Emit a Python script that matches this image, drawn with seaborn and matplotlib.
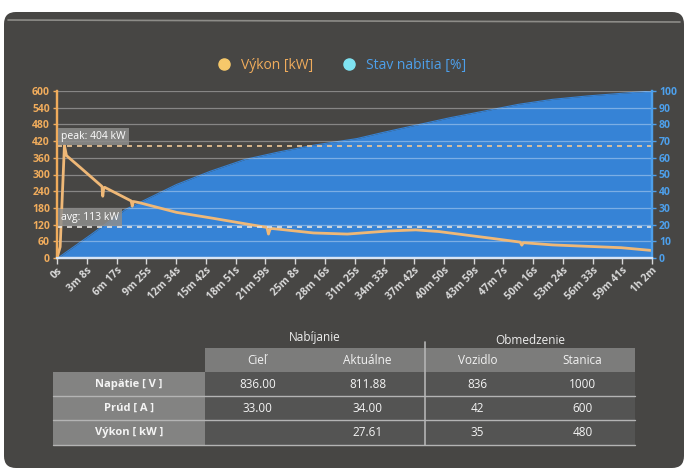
import numpy as np
import pandas as pd
import seaborn as sns
import matplotlib.pyplot as plt
from matplotlib.lines import Line2D
from matplotlib.patches import Rectangle, FancyBboxPatch

# power curve (seconds, kW)
power_t = [0, 20, 47, 60, 150, 285, 290, 296, 302, 470, 477, 484, 520, 757, 975,
           1192, 1330, 1340, 1350, 1362, 1430, 1625, 1840, 2100, 2273, 2420, 2598,
           2750, 2935, 2945, 2955, 3140, 3357, 3575, 3770]
power_kw = [0, 40, 404, 368, 324, 257, 222, 250, 254, 205, 186, 203, 199, 164, 144,
            123, 110, 86, 104, 106, 102, 90, 86, 97, 101, 95, 82,
            71, 57, 46, 55, 47, 42, 37, 27]

# state of charge (seconds, %)
soc_t = [0, 20, 215, 432, 757, 973, 1190, 1406, 1623, 1900, 2057, 2273, 2490,
         2707, 2923, 3140, 3357, 3575, 3770]
soc_pct = [0, 1, 14, 29, 44, 52, 59, 63.5, 67.5, 71.5, 75, 79.5, 84,
           88, 92, 95, 97, 98.6, 100]

PEAK_KW = 404
AVG_KW = 113

tick_labels = ["0s", "3m 8s", "6m 17s", "9m 25s", "12m 34s", "15m 42s", "18m 51s",
               "21m 59s", "25m 8s", "28m 16s", "31m 25s", "34m 33s", "37m 42s",
               "40m 50s", "43m 59s", "47m 7s", "50m 16s", "53m 24s", "56m 33s",
               "59m 41s", "1h 2m"]
TOTAL_S = 3770

# table content
group_titles = ["Nabíjanie", "Obmedzenie"]
col_headers = ["Cieľ", "Aktuálne", "Vozidlo", "Stanica"]
row_labels = ["Napätie [ V ]", "Prúd [ A ]", "Výkon [ kW ]"]
cell_values = [["836.00", "811.88", "836", "1000"],
               ["33.00", "34.00", "42", "600"],
               ["", "27.61", "35", "480"]]

ORANGE = "#f0ac5c"
LINE_OR = "#efb877"
BLUE = "#4d9fea"
FILL_BLUE = "#3683d6"
SCREEN = "#474644"

sns.set_theme(style="dark")
plt.rcParams['font.family'] = ['Open Sans', 'DejaVu Sans']

fig = plt.figure(figsize=(6.9, 4.74), dpi=100, facecolor="white")

# background "screen" and table, in pixel coordinates
bg = fig.add_axes([0, 0, 1, 1], zorder=0)
bg.set_xlim(0, 690)
bg.set_ylim(474, 0)
bg.axis("off")
bg.add_patch(FancyBboxPatch((4, 12), 680, 456, boxstyle="round,pad=0,rounding_size=12",
                            facecolor=SCREEN, edgecolor="none"))
bg.plot([8, 680], [20, 22], color="#8d8c88", lw=1.2)

# table
xe = [205, 310, 425, 530, 635]
ye = [372, 396, 420, 445]
bg.text((xe[0] + xe[2]) / 2, 337, group_titles[0], color="#eeeeee", fontsize=8.5,
        ha="center", va="center")
bg.text((xe[2] + xe[4]) / 2, 340, group_titles[1], color="#eeeeee", fontsize=8.5,
        ha="center", va="center")
for j, h in enumerate(col_headers):
    bg.add_patch(Rectangle((xe[j], 348), xe[j + 1] - xe[j], 24, facecolor="#7c7c7b",
                           edgecolor="none"))
    bg.text((xe[j] + xe[j + 1]) / 2, 360, h, color="#f2f2f2", fontsize=8.5,
            ha="center", va="center")
for i, lab in enumerate(row_labels):
    bg.add_patch(Rectangle((53, ye[i]), 152, ye[i + 1] - ye[i], facecolor="#838382",
                           edgecolor="none"))
    bg.text(129, (ye[i] + ye[i + 1]) / 2, lab, color="#f4f4f4", fontsize=8,
            fontweight="bold", ha="center", va="center")
    for j, v in enumerate(cell_values[i]):
        bg.add_patch(Rectangle((xe[j], ye[i]), xe[j + 1] - xe[j], ye[i + 1] - ye[i],
                               facecolor="#545453", edgecolor="none"))
        bg.text((xe[j] + xe[j + 1]) / 2, (ye[i] + ye[i + 1]) / 2, v, color="#f4f4f4",
                fontsize=8.5, ha="center", va="center")
for y in ye[1:]:
    bg.plot([53, 635], [y, y], color="#b4b4b4", lw=1)
bg.plot([425, 425], [342, 445], color="#b4b4b4", lw=1.2)

# chart
ax = fig.add_axes([57 / 690, (474 - 258) / 474, 595 / 690, 167 / 474], zorder=3)
ax2 = ax.twinx()
ax2.set_zorder(2)
ax.set_zorder(3)
ax.patch.set_visible(False)
ax2.patch.set_facecolor(SCREEN)

soc_df = pd.DataFrame({"t": soc_t, "soc": soc_pct})
sns.lineplot(data=soc_df, x="t", y="soc", ax=ax2, color=FILL_BLUE, lw=0.8)
ax2.fill_between(soc_t, soc_pct, color=FILL_BLUE, lw=0)

pw_df = pd.DataFrame({"t": power_t, "kw": power_kw})
sns.lineplot(data=pw_df, x="t", y="kw", ax=ax, color=LINE_OR, lw=2)

ax.set_xlim(0, TOTAL_S)
ax.set_ylim(0, 600)
ax2.set_ylim(0, 100)
ax.set_yticks(np.arange(0, 601, 60))
ax2.set_yticks(np.arange(0, 101, 10))
ax.set_xticks(np.linspace(0, TOTAL_S, len(tick_labels)))
ax.set_xticklabels(tick_labels, rotation=45, ha="right", rotation_mode="anchor")
ax.set_xlabel("")
ax.set_ylabel("")
ax2.set_xlabel("")
ax2.set_ylabel("")

ax.grid(axis="y", color="white", alpha=0.35, lw=0.9)
ax.grid(axis="x", visible=False)
ax2.grid(False)

ax.tick_params(axis="y", colors=ORANGE, labelsize=7.5, length=3, width=1, pad=2,
               left=True)
ax.tick_params(axis="x", colors="#d9d9d9", labelsize=7.5, length=4, width=1,
               bottom=True, pad=1)
ax2.tick_params(axis="y", colors=BLUE, labelsize=7.5, length=3, width=1, pad=2,
                right=True)
for lbl in ax.get_yticklabels() + ax2.get_yticklabels() + ax.get_xticklabels():
    lbl.set_fontweight("bold")

for a in (ax, ax2):
    a.spines["top"].set_visible(False)
    a.spines["left"].set_color(ORANGE)
    a.spines["left"].set_linewidth(1.6)
    a.spines["right"].set_color(BLUE)
    a.spines["right"].set_linewidth(1.6)
    a.spines["bottom"].set_color("#d6e4f5")
    a.spines["bottom"].set_linewidth(1.6)

# peak / average lines with labels
ax.axhline(PEAK_KW, color="#f2c997", ls=(0, (3, 3)), lw=1.2)
ax.axhline(AVG_KW, color="#e8e4de", ls=(0, (3, 3)), lw=1.2)
box = dict(boxstyle="square,pad=0.3", facecolor="#8e8e8d", edgecolor="none", alpha=0.85)
ax.text(25, PEAK_KW + 12, f"peak: {PEAK_KW} kW", color="white", fontsize=7.5,
        ha="left", va="bottom", bbox=box)
ax.text(25, AVG_KW + 12, f"avg: {AVG_KW} kW", color="white", fontsize=7.5,
        ha="left", va="bottom", bbox=box)

# legend
handles = [Line2D([], [], marker="o", ls="", markersize=8, color="#f6c86a"),
           Line2D([], [], marker="o", ls="", markersize=8, color="#7fe3f2")]
fig.legend(handles, ["Výkon [kW]", "Stav nabitia [%]"], loc="center",
           bbox_to_anchor=(0.49, 0.862), ncol=2, frameon=False, fontsize=10,
           labelcolor=[ORANGE, BLUE], handletextpad=0.2, columnspacing=1.6)

plt.savefig("out.png", dpi=100, facecolor=fig.get_facecolor())
